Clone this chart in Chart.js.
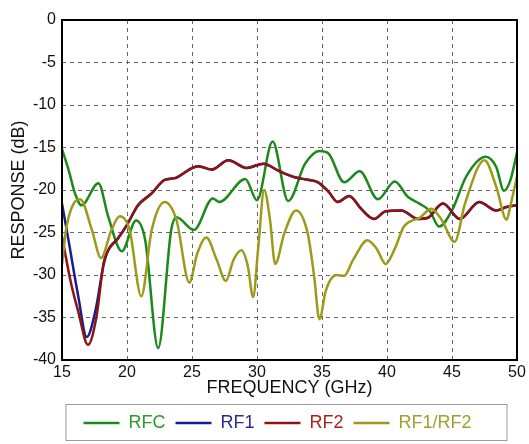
<!DOCTYPE html>
<html>
<head>
<meta charset="utf-8">
<script src="https://cdn.jsdelivr.net/npm/chart.js@4/dist/chart.umd.min.js"></script>
<style>
  body { margin: 0; background: #fff; }
</style>
</head>
<body>
<canvas id="chart" width="529" height="444"></canvas>
<script>
const rfcFreq = [15, 15.5, 16, 16.5, 17.8, 18.55, 19.6, 20.7, 21.4, 22.4, 23.4, 23.8, 25.15, 26.6, 27.1, 29.1, 30.0, 31.2, 32.4, 33.7, 34.8, 35.5, 36.7, 37.9, 39.3, 40.6, 41.6, 42.5, 43.3, 44.0, 45.0, 46.1, 47.6, 48.4, 49.0, 49.5, 50];
const rfcDb   = [-15.2, -17.6, -20.4, -21.8, -19.2, -23.1, -27.2, -23.6, -25.9, -38.6, -24.7, -23.2, -24.7, -21.0, -21.4, -18.7, -21.2, -14.3, -21.3, -16.9, -15.4, -15.7, -19.1, -17.8, -21.1, -19.0, -20.8, -21.6, -22.5, -24.3, -22.4, -18.4, -16.1, -17.3, -20.1, -18.8, -15.6];

const rf1Freq = [15, 15.5, 16.25, 16.9, 17.6, 18.2, 18.55, 19.3, 20.0, 20.85, 21.9, 22.9, 23.7, 24.9, 25.5, 26.5, 27.8, 29.2, 30.5, 31.6, 32.9, 33.9, 34.7, 35.5, 36.2, 37.1, 38.0, 39.0, 39.9, 41.1, 42.4, 43.1, 44.3, 45.6, 47.1, 48.4, 49.2, 50];
const rf1Db   = [-21.6, -25.9, -32.5, -37.3, -34.0, -28.8, -27.1, -25.7, -24.1, -21.8, -20.4, -18.8, -18.6, -17.5, -17.2, -17.6, -16.5, -17.4, -16.9, -17.7, -18.5, -18.8, -19.1, -20.2, -21.4, -20.7, -22.2, -23.4, -22.5, -22.4, -23.4, -23.3, -21.6, -23.4, -21.4, -22.4, -22.0, -21.8];

const rf2Freq = [15, 15.7, 16.25, 17.0, 17.65, 18.2, 18.55, 19.3, 20.0, 20.85, 21.9, 22.9, 23.7, 24.9, 25.5, 26.5, 27.8, 29.2, 30.5, 31.6, 32.9, 33.9, 34.7, 35.5, 36.2, 37.1, 38.0, 39.0, 39.9, 41.1, 42.4, 43.1, 44.3, 45.6, 47.1, 48.4, 49.2, 50];
const rf2Db   = [-25.5, -31.0, -34.3, -38.2, -34.9, -28.6, -27.1, -25.7, -24.1, -21.8, -20.4, -18.8, -18.6, -17.5, -17.2, -17.6, -16.5, -17.4, -16.9, -17.7, -18.5, -18.8, -19.1, -20.2, -21.4, -20.7, -22.2, -23.4, -22.5, -22.4, -23.4, -23.3, -21.6, -23.4, -21.4, -22.4, -22.0, -21.8];

const ratioFreq = [15, 15.35, 16.4, 17.3, 18.0, 18.8, 19.45, 20.2, 21.1, 21.9, 22.9, 23.8, 24.8, 25.4, 26.1, 26.9, 27.6, 28.2, 28.8, 29.3, 29.7, 30.1, 30.55, 31.0, 31.4, 32.1, 33.0, 33.9, 34.4, 34.8, 35.3, 36.1, 36.7, 37.4, 38.5, 39.2, 39.9, 40.6, 41.3, 42.1, 42.5, 43.4, 44.2, 45.2, 46.0, 47.5, 48.4, 49.2, 49.5, 50];
const ratioDb   = [-28.8, -24.3, -21.1, -24.7, -28.0, -24.7, -23.1, -24.7, -32.5, -24.7, -21.4, -23.5, -30.9, -27.5, -25.6, -28.2, -30.7, -28.2, -27.1, -29.0, -32.6, -26.7, -20.0, -23.5, -28.7, -25.1, -22.4, -25.1, -30.2, -35.2, -31.8, -30.0, -30.1, -28.2, -25.9, -26.9, -28.7, -26.9, -24.3, -23.5, -23.3, -22.2, -23.5, -26.1, -21.6, -16.5, -19.6, -23.5, -21.8, -18.4];

const seriesNames = ['RFC', 'RF1', 'RF2', 'RF1/RF2'];
const xTicks = [15, 20, 25, 30, 35, 40, 45, 50];
const yTicks = [0, -5, -10, -15, -20, -25, -30, -35, -40];

const lineColors = ['#1b8a1b', '#1c1c8c', '#8c1414', '#9b9a1a'];
const textColors = ['#2e9a2e', '#2a2a9a', '#b01e1e', '#a0a030'];
const font = 'Liberation Sans, Arial, sans-serif';

function points(xs, ys) {
    return xs.map((x, i) => ({x: x, y: ys[i]}));
}

const series = [
    points(rfcFreq, rfcDb),
    points(rf1Freq, rf1Db),
    points(rf2Freq, rf2Db),
    points(ratioFreq, ratioDb),
];

const datasets = series.map((data, i) => ({
    label: seriesNames[i],
    data: data,
    borderColor: lineColors[i],
    backgroundColor: lineColors[i],
    borderWidth: 2.5,
    pointRadius: 0,
    cubicInterpolationMode: 'monotone',
    order: 3 - i, // later series on top
}));

// box around the plot and around the legend
const framePlugin = {
    id: 'frames',
    afterLayout(chart) {
        // legend sits a little left of the plot centre in the original
        chart.legend.left -= 12;
        chart.legend.right -= 12;
    },
    afterDatasetsDraw(chart) {
        const {ctx, chartArea: a} = chart;
        ctx.save();
        ctx.strokeStyle = '#000';
        ctx.lineWidth = 2;
        ctx.strokeRect(a.left, a.top, a.right - a.left, a.bottom - a.top);
        ctx.restore();
    },
    afterDraw(chart) {
        const legend = chart.legend;
        const boxes = legend.legendHitBoxes;
        if (!boxes || !boxes.length) return;
        const last = boxes[boxes.length - 1];
        const left = boxes[0].left - 18;
        const right = last.left + last.width + 35;
        const ctx = chart.ctx;
        ctx.save();
        ctx.strokeStyle = '#9a9a9a';
        ctx.lineWidth = 1;
        ctx.strokeRect(left + 0.5, legend.top + 0.5, right - left, legend.bottom - legend.top - 2);
        ctx.restore();
    }
};

new Chart(document.getElementById('chart'), {
    type: 'line',
    data: {datasets: datasets},
    options: {
        responsive: false,
        animation: false,
        layout: {padding: {top: 20, right: 12, bottom: 2, left: 0}},
        plugins: {
            tooltip: {enabled: false},
            legend: {
                position: 'bottom',
                fullSize: false,
                labels: {
                    boxWidth: 36,
                    boxHeight: 2.5,
                    padding: 10,
                    font: {family: font, size: 18},
                    generateLabels: (chart) => chart.data.datasets.map((ds, i) => ({
                        text: ds.label,
                        fillStyle: ds.borderColor,
                        strokeStyle: ds.borderColor,
                        lineWidth: 0,
                        fontColor: textColors[i],
                        datasetIndex: i,
                        hidden: false,
                    })),
                },
            },
        },
        scales: {
            x: {
                type: 'linear',
                min: 15,
                max: 50,
                afterBuildTicks: (s) => { s.ticks = xTicks.map(v => ({value: v})); },
                afterFit: (s) => { s.height = 44; },
                ticks: {font: {family: font, size: 16}, color: '#111', padding: 3},
                grid: {color: '#666', lineWidth: 1, drawTicks: false},
                border: {display: false, dash: [4, 4]},
                title: {display: true, text: 'FREQUENCY (GHz)', font: {family: font, size: 18}, color: '#111', padding: {top: 0, bottom: 5}},
            },
            y: {
                min: -40,
                max: 0,
                afterBuildTicks: (s) => { s.ticks = yTicks.map(v => ({value: v})); },
                afterFit: (s) => { s.width = 62; },
                ticks: {font: {family: font, size: 16}, color: '#111', padding: 6},
                grid: {color: '#666', lineWidth: 1, drawTicks: false},
                border: {display: false, dash: [4, 4]},
                title: {display: true, text: 'RESPONSE (dB)', font: {family: font, size: 18}, color: '#111', padding: {top: 8, bottom: 0}},
            },
        },
    },
    plugins: [framePlugin],
});
</script>
</body>
</html>
